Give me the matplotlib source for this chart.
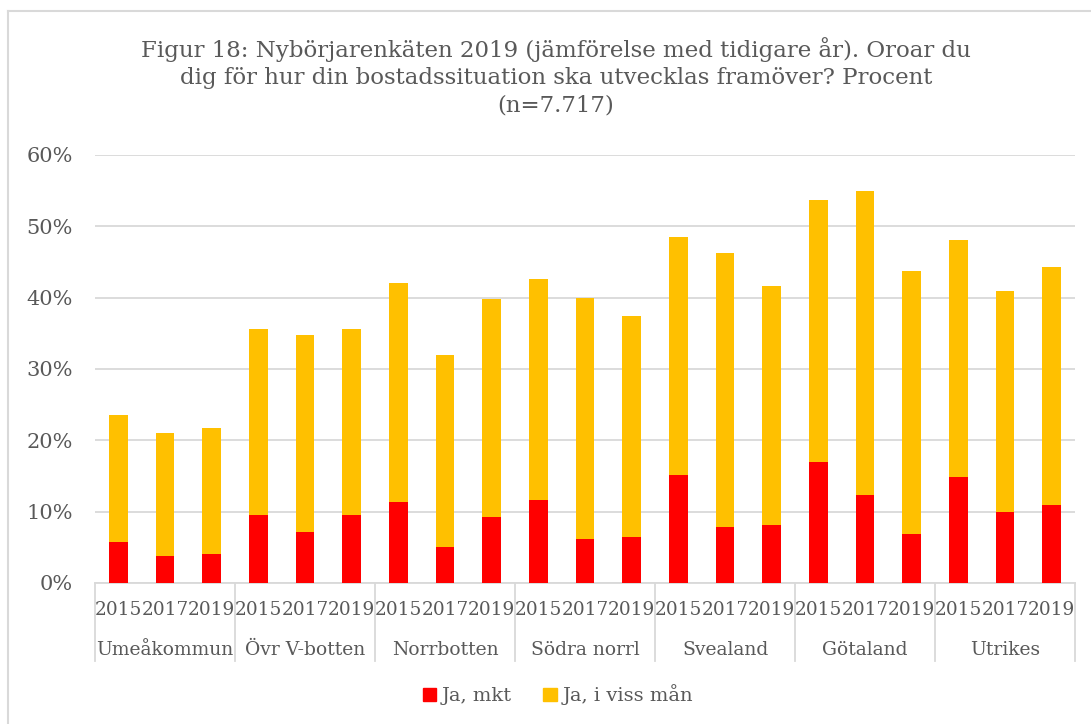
import numpy as np
import matplotlib.pyplot as plt
from matplotlib.lines import Line2D
from matplotlib.patches import Patch
from matplotlib.ticker import PercentFormatter
import matplotlib.transforms as mtransforms

# data (percent)
regions = ['Umeåkommun', 'Övr V-botten', 'Norrbotten', 'Södra norrl',
           'Svealand', 'Götaland', 'Utrikes']
years = ['2015', '2017', '2019']
ja_mkt = [5.8, 3.8, 4.0,
          9.6, 7.2, 9.6,
          11.4, 5.1, 9.2,
          11.6, 6.2, 6.4,
          15.2, 7.8, 8.2,
          17.0, 12.4, 6.9,
          14.8, 9.9, 11.0]
totals = [23.5, 21.0, 21.7,
          35.6, 34.8, 35.6,
          42.0, 32.0, 39.8,
          42.6, 40.0, 37.4,
          48.5, 46.3, 41.6,
          53.7, 55.0, 43.7,
          48.1, 41.0, 44.3]
ja_viss = [t - m for t, m in zip(totals, ja_mkt)]

RED = '#FF0000'
YEL = '#FFC000'
TXT = '#595959'
GRID = '#D9D9D9'

plt.rcParams['font.family'] = ['DejaVu Serif']

fig = plt.figure(figsize=(10.91, 7.24), dpi=100)
ax = fig.add_axes([95 / 1091, 1 - 583 / 724, 980 / 1091, 428 / 724])

x = np.arange(len(ja_mkt))
ax.bar(x, ja_mkt, width=0.4, color=RED, zorder=3)
ax.bar(x, ja_viss, width=0.4, bottom=ja_mkt, color=YEL, zorder=3)

ax.set_xlim(-0.5, len(x) - 0.5)
ax.set_ylim(0, 60)
ax.set_yticks(np.arange(0, 61, 10))
ax.yaxis.set_major_formatter(PercentFormatter(decimals=0))
ax.yaxis.grid(True, color=GRID, linewidth=1.3, zorder=0)
ax.tick_params(axis='y', length=0, pad=16, labelsize=15, labelcolor=TXT)
for s in ['top', 'right', 'left']:
    ax.spines[s].set_visible(False)
ax.spines['bottom'].set_color(GRID)
ax.spines['bottom'].set_linewidth(1.3)

# multi-level category axis
ax.set_xticks(x)
ax.set_xticklabels(years * len(regions))
ax.tick_params(axis='x', length=0, pad=13, labelsize=13.3, labelcolor=TXT)

trans = mtransforms.blended_transform_factory(ax.transData, ax.transAxes)
for i, r in enumerate(regions):
    ax.text(i * 3 + 1, -0.157, r, transform=trans, ha='center', va='center',
            fontsize=13.5, color=TXT)
for b in np.arange(-0.5, len(x), 3):
    ax.add_line(Line2D([b, b], [0, -0.182], transform=trans, color=GRID,
                       linewidth=1.3, clip_on=False))

fig.text(556 / 1091, 1 - 77 / 724,
         'Figur 18: Nybörjarenkäten 2019 (jämförelse med tidigare år). Oroar du\n'
         'dig för hur din bostadssituation ska utvecklas framöver? Procent\n'
         '(n=7.717)',
         ha='center', va='center', fontsize=16.5, color=TXT, linespacing=1.3)

handles = [Patch(color=RED, label='Ja, mkt'), Patch(color=YEL, label='Ja, i viss mån')]
fig.legend(handles=handles, loc='center', bbox_to_anchor=(558 / 1091, 1 - 695 / 724),
           ncol=2, frameon=False, fontsize=14, labelcolor=TXT,
           handlelength=0.7, handleheight=0.7, handletextpad=0.3, columnspacing=1.6)

# chart area border (top and left edges visible)
fig.add_artist(Line2D([8 / 1091, 1], [1 - 11 / 724] * 2, transform=fig.transFigure,
                      color=GRID, linewidth=1.5))
fig.add_artist(Line2D([8 / 1091] * 2, [0, 1 - 11 / 724], transform=fig.transFigure,
                      color=GRID, linewidth=1.5))

fig.savefig('out.png', dpi=100)
